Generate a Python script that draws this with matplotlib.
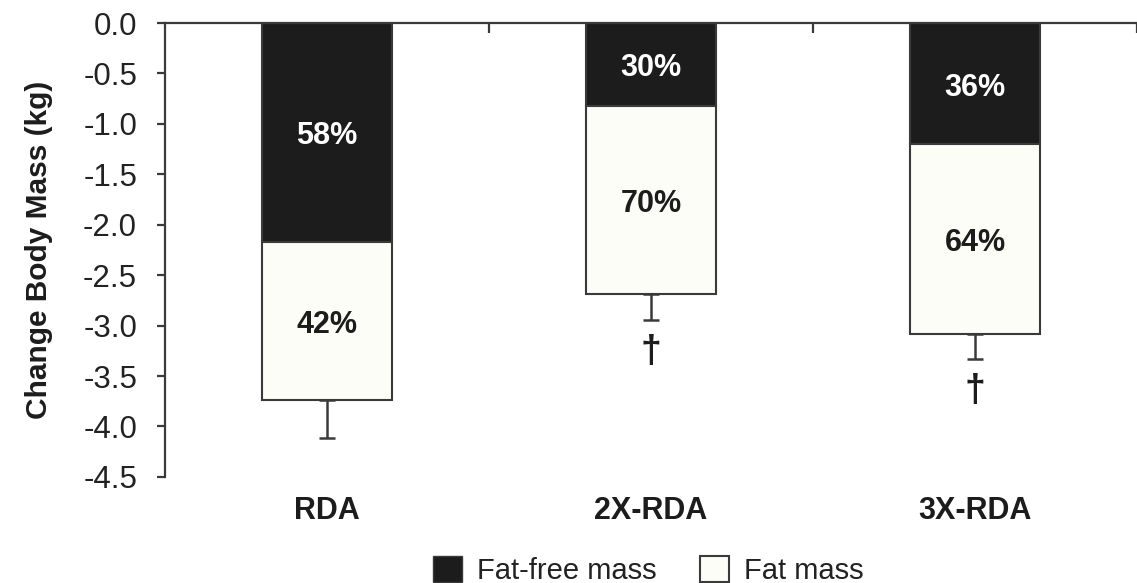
import matplotlib.pyplot as plt
import numpy as np
from matplotlib.patches import Patch

plt.rcParams['font.family'] = ['Liberation Sans', 'DejaVu Sans']

# data (kg)
groups = ["RDA", "2X-RDA", "3X-RDA"]
fat_free = [-2.17, -0.82, -1.20]      # change in fat-free mass
fat = [-1.57, -1.87, -1.88]           # change in fat mass (stacked below)
fat_se = [0.37, 0.25, 0.25]           # lower error bar on total
ffm_pct = ["58%", "30%", "36%"]
fat_pct = ["42%", "70%", "64%"]
sig_mark = ["", "\u2020", "\u2020"]

ink = "#1c1c1c"
edge = "#3a3a3a"

fig = plt.figure(figsize=(11.37, 5.83), dpi=100)
ax = fig.add_axes([0.145, 0.182, 0.855, 0.7785])

x = np.arange(len(groups))
w = 0.4
ff = np.array(fat_free)
fm = np.array(fat)
total = ff + fm

ax.bar(x, ff, w, color=ink, edgecolor=edge, linewidth=1.5, zorder=2)
ax.bar(x, fm, w, bottom=ff, color="#fdfdf7", edgecolor=edge, linewidth=1.5, zorder=2)
ax.errorbar(x, total, yerr=[fat_se, np.zeros(len(x))], fmt="none",
            ecolor=edge, elinewidth=1.8, capsize=5.5, capthick=1.8, zorder=1)

for i in range(len(x)):
    ax.text(x[i], ff[i] / 2 - 0.04, ffm_pct[i], ha="center", va="center",
            color="white", fontsize=22, fontweight="bold")
    ax.text(x[i], ff[i] + fm[i] / 2 - 0.04, fat_pct[i], ha="center", va="center",
            color=ink, fontsize=22, fontweight="bold")
    if sig_mark[i]:
        ax.text(x[i], total[i] - fat_se[i] - 0.32, sig_mark[i], ha="center",
                va="center", color=ink, fontsize=27, fontweight="bold")
    ax.text(x[i], -0.075, groups[i], transform=ax.get_xaxis_transform(),
            ha="center", va="center", color=ink, fontsize=22, fontweight="bold")

ax.set_xlim(-0.5, 2.5)
ax.set_ylim(-4.5, 0)
ax.set_yticks(np.arange(0, -4.51, -0.5))
ax.set_yticklabels([f"{v:.1f}" for v in np.arange(0, -4.51, -0.5)])

ax.spines["bottom"].set_visible(False)
ax.spines["right"].set_visible(False)
ax.spines["top"].set_linewidth(1.6)
ax.spines["left"].set_linewidth(1.6)
ax.spines["top"].set_color(edge)
ax.spines["left"].set_color(edge)

ax.xaxis.set_ticks_position("top")
ax.set_xticks([0.5, 1.5, 2.5])
ax.set_xticklabels([])
ax.tick_params(axis="x", direction="in", length=7, width=1.6, color=edge)
ax.tick_params(axis="y", direction="out", length=6, width=1.6, color=edge,
               labelsize=22.5, labelcolor="#222222", pad=14)

ax.set_ylabel("Change Body Mass (kg)", fontsize=21.5, fontweight="bold",
              color=ink, labelpad=22)

handles = [Patch(facecolor=ink, edgecolor=edge, label="Fat-free mass"),
           Patch(facecolor="#fdfdf7", edgecolor=edge, linewidth=1.5, label="Fat mass")]
fig.legend(handles=handles, loc="center", bbox_to_anchor=(0.57, 0.022), ncol=2,
           frameon=False, fontsize=21, handlelength=1.0, handleheight=1.0,
           handletextpad=0.5, columnspacing=1.5, labelcolor="#222222")

fig.savefig("out.png", dpi=100)
